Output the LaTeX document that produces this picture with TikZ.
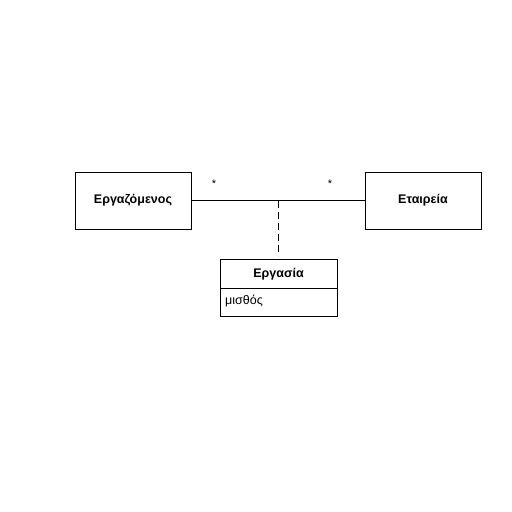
\documentclass[tikz,border=0pt]{standalone}
\usepackage{fontspec}
\setmainfont{Liberation Sans}
\begin{document}
\begin{tikzpicture}[x=1pt,y=-1pt,
  cls/.style={draw,line width=0.8pt,minimum width=116pt,minimum height=57pt,inner sep=0pt,font=\fontsize{12.5}{14}\selectfont\bfseries},
  conn/.style={line width=0.7pt},
  mult/.style={font=\fontsize{11}{12}\selectfont,inner sep=0pt}]
\useasboundingbox (0,0) rectangle (512,512);
\node[cls] (emp) at (133,200.5) {Εργαζόμενος};
\node[cls] (comp) at (423,200.5) {Εταιρεία};
\draw[line width=0.8pt] (220,259) rectangle (337,316.5);
\node[font=\fontsize{12.5}{14}\selectfont\bfseries] (wname) at (278.5,274) {Εργασία};
\draw[line width=0.8pt] (220,288) coordinate (dl) -- (337,288) coordinate (dr);
\node[anchor=west,font=\fontsize{12.5}{14}\selectfont,inner sep=0pt] (attr) at (225,301) {μισθός};
\draw[conn] (emp.east) -- (comp.west);
\coordinate (j) at (278,201);
\coordinate (jend) at (278,256);
\draw[conn,dash pattern=on 7pt off 4pt] (j) -- (jend);
\node[mult] (m1) at (214,184) {*};
\node[mult] (m2) at (330,184) {*};
\end{tikzpicture}
\end{document}
